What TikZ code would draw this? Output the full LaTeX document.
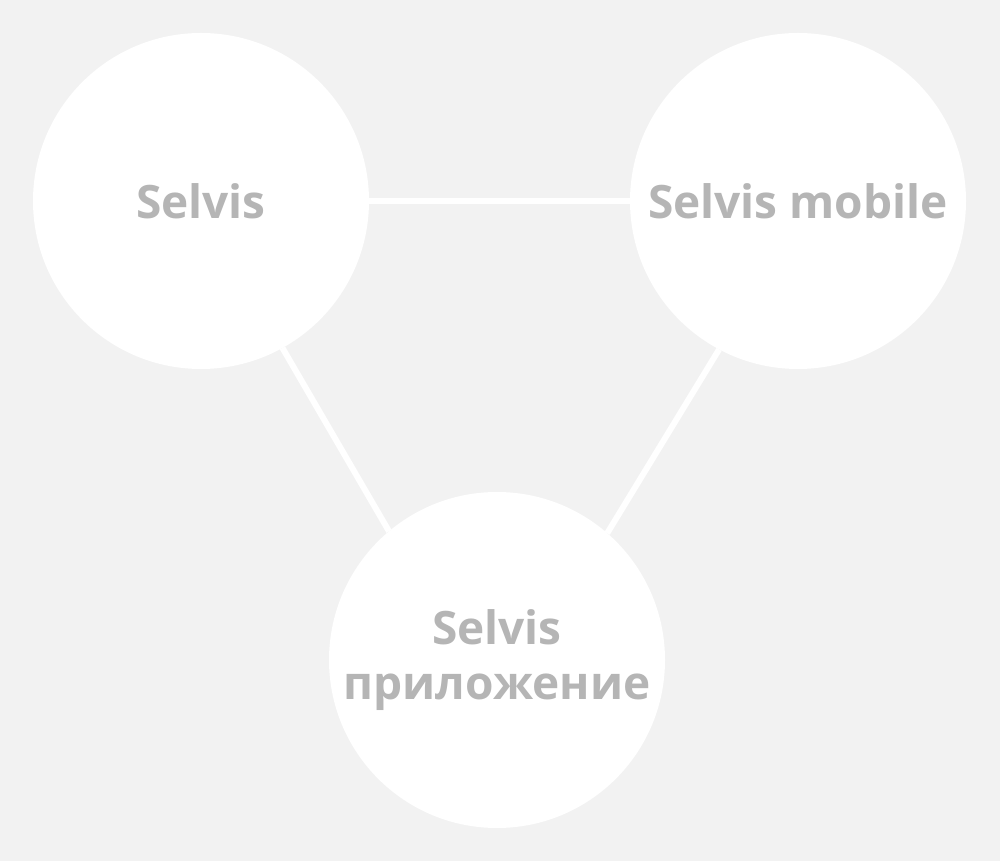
\documentclass[tikz,border=0pt]{standalone}
\usepackage{fontspec}
\setmainfont{Open Sans}
\definecolor{bgrey}{HTML}{F2F2F2}
\definecolor{tgrey}{HTML}{B5B5B5}

\begin{document}
\begin{tikzpicture}[x=1pt,y=1pt]
	\tikzstyle{bubble}=[circle, fill=white, inner sep=0pt, outer sep=0pt, minimum size=336pt,
		text=tgrey, align=center, font=\fontsize{46}{55}\selectfont\bfseries]
	\tikzstyle{link}=[white, line width=6pt]
	\fill [bgrey] (0,0) rectangle (1000,861);
	\useasboundingbox (0,0) rectangle (1000,861);
	\node [bubble] (selvis) at (201,660) {Selvis};
	\node [bubble] (mobile) at (798,660) {Selvis mobile};
	\node [bubble] (app) at (497,201) {Selvis\\приложение};
	\draw [link] (selvis.east) -- (mobile.west);
	\draw [link] (selvis.-61) -- (app.130.5);
	\draw [link] (mobile.242.7) -- (app.49.8);
\end{tikzpicture}
\end{document}
